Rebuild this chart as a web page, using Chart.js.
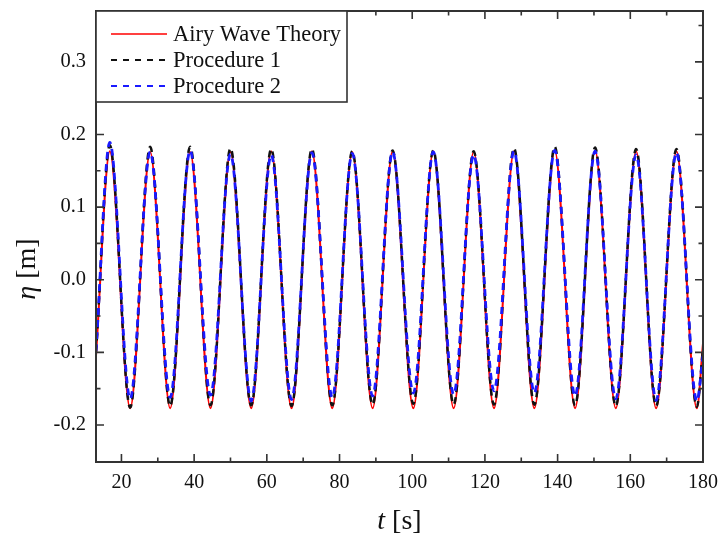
<!DOCTYPE html>
<html lang="en">
<head>
<meta charset="UTF-8">
<title>Surface elevation</title>
<style>
    body {
        margin: 0;
        background: #fff;
    }

    #wrap {
        width: 721px;
        height: 535px;
    }
</style>
</head>
<body>
<div id="wrap"><canvas id="waveChart" width="721" height="535"></canvas></div>

<script src="https://cdn.jsdelivr.net/npm/chart.js"></script>
<script>
    // crests and troughs: t [s], eta [m]
    const times = [13.0, 16.8, 22.4, 27.9, 33.4, 38.9, 44.5, 50.0, 55.7, 61.2, 66.8,
        72.4, 78.0, 83.5, 89.1, 94.6, 100.3, 105.8, 111.4, 116.9, 122.5,
        128.0, 133.6, 139.2, 144.8, 150.3, 156.0, 161.6, 167.1, 172.7, 178.3, 180.0];
    const airy = [-0.105, 0.177, -0.177, 0.176, -0.177, 0.176, -0.177, 0.176, -0.177, 0.177, -0.177,
        0.177, -0.177, 0.176, -0.177, 0.177, -0.177, 0.177, -0.177, 0.176, -0.177,
        0.177, -0.177, 0.178, -0.177, 0.178, -0.177, 0.177, -0.177, 0.177, -0.177, -0.088];
    const proc1 = [-0.100, 0.185, -0.176, 0.183, -0.174, 0.183, -0.173, 0.181, -0.173, 0.180, -0.174,
        0.180, -0.173, 0.177, -0.172, 0.178, -0.171, 0.178, -0.172, 0.177, -0.172,
        0.181, -0.172, 0.183, -0.173, 0.182, -0.174, 0.180, -0.174, 0.180, -0.175, -0.095];
    const proc2 = [-0.098, 0.189, -0.164, 0.176, -0.162, 0.178, -0.159, 0.173, -0.167, 0.172, -0.165,
        0.175, -0.162, 0.174, -0.160, 0.176, -0.156, 0.176, -0.158, 0.172, -0.153,
        0.177, -0.156, 0.178, -0.160, 0.177, -0.164, 0.172, -0.166, 0.175, -0.167, -0.105];

    const xTicks = [20, 40, 60, 80, 100, 120, 140, 160, 180];
    const xMinor = [30, 50, 70, 90, 110, 130, 150, 170];
    const yTicks = [-0.2, -0.1, 0.0, 0.1, 0.2, 0.3];
    const yMinor = [-0.15, -0.05, 0.05, 0.15, 0.25, 0.35];

    const seriesNames = ['Airy Wave Theory', 'Procedure 1', 'Procedure 2'];
    const seriesColors = ['#ff0000', '#111111', '#1a1aff'];

    const FONT = "'Liberation Serif', 'Times New Roman', serif";
    const AXIS = '#333333';

    function pts(ys) {
        return times.map((t, i) => ({ x: t, y: ys[i] }));
    }

    // frame with inward ticks on all four sides, then the boxed legend
    const framePlugin = {
        id: 'frame',
        afterDraw(chart) {
            const c = chart.ctx;
            const a = chart.chartArea;
            const xs = chart.scales.x;
            const ys = chart.scales.y;
            c.save();
            c.strokeStyle = AXIS;
            c.lineWidth = 1.6;
            c.beginPath();
            xTicks.concat(xMinor).forEach(v => {
                const px = xs.getPixelForValue(v);
                const len = xTicks.includes(v) ? 8 : 4.5;
                c.moveTo(px, a.bottom); c.lineTo(px, a.bottom - len);
                c.moveTo(px, a.top); c.lineTo(px, a.top + len);
            });
            yTicks.concat(yMinor).forEach(v => {
                const py = ys.getPixelForValue(v);
                const len = yTicks.includes(v) ? 8 : 4.5;
                c.moveTo(a.left, py); c.lineTo(a.left + len, py);
                c.moveTo(a.right, py); c.lineTo(a.right - len, py);
            });
            c.stroke();
            c.lineWidth = 2;
            c.strokeRect(a.left, a.top, a.right - a.left, a.bottom - a.top);

            // legend box
            const bx = a.left, by = a.top, bw = 251, bh = 91;
            c.fillStyle = '#fff';
            c.fillRect(bx, by, bw, bh);
            c.lineWidth = 1.6;
            c.strokeRect(bx, by, bw, bh);
            const rows = [34, 60, 86];
            c.font = '22.5px ' + FONT;
            c.textBaseline = 'alphabetic';
            seriesNames.forEach((name, i) => {
                c.strokeStyle = seriesColors[i];
                c.lineWidth = i === 0 ? 1.5 : 2;
                c.setLineDash(i === 0 ? [] : [6, 6]);
                c.beginPath();
                c.moveTo(bx + 15, rows[i]);
                c.lineTo(bx + 71, rows[i]);
                c.stroke();
                c.setLineDash([]);
                c.fillStyle = '#111';
                c.fillText(name, bx + 77, rows[i] + 7);
            });
            c.restore();
        }
    };

    // axis titles with italic symbols
    const titlePlugin = {
        id: 'titles',
        afterDraw(chart) {
            const c = chart.ctx;
            const a = chart.chartArea;
            c.save();
            c.fillStyle = '#111';
            c.textBaseline = 'alphabetic';
            const it = 'italic 28px ' + FONT;
            const rg = '28px ' + FONT;

            c.font = it;
            const wt = c.measureText('t').width;
            c.font = rg;
            const ws = c.measureText(' [s]').width;
            let x0 = (a.left + a.right) / 2 - (wt + ws) / 2;
            c.font = it;
            c.fillText('t', x0, 529);
            c.font = rg;
            c.fillText(' [s]', x0 + wt, 529);

            c.translate(35, 269);
            c.rotate(-Math.PI / 2);
            c.font = it;
            const we = c.measureText('\u03b7').width;
            c.font = rg;
            const wm = c.measureText(' [m]').width;
            x0 = -(we + wm) / 2;
            c.font = it;
            c.fillText('\u03b7', x0, 0);
            c.font = rg;
            c.fillText(' [m]', x0 + we, 0);
            c.restore();
        }
    };

    const ctx = document.getElementById('waveChart').getContext('2d');
    const waveChart = new Chart(ctx, {
        type: 'line',
        data: {
            datasets: [{
                label: seriesNames[0],
                data: pts(airy),
                borderColor: seriesColors[0],
                borderWidth: 2,
                order: 3
            }, {
                label: seriesNames[1],
                data: pts(proc1),
                borderColor: seriesColors[1],
                borderWidth: 2.5,
                borderDash: [7, 5],
                order: 2
            }, {
                label: seriesNames[2],
                data: pts(proc2),
                borderColor: seriesColors[2],
                borderWidth: 2.8,
                borderDash: [7, 5],
                order: 1
            }]
        },
        options: {
            responsive: false,
            animation: false,
            events: [],
            elements: {
                point: { radius: 0 },
                line: { cubicInterpolationMode: 'monotone', fill: false }
            },
            layout: { padding: { top: 11, right: 18, left: 0, bottom: 0 } },
            plugins: {
                legend: { display: false },
                tooltip: { enabled: false }
            },
            scales: {
                x: {
                    type: 'linear',
                    min: 13,
                    max: 180,
                    grid: { display: false, drawTicks: false },
                    border: { display: false },
                    ticks: {
                        color: '#111',
                        font: { family: FONT, size: 20 },
                        padding: 9,
                        autoSkip: false,
                        maxRotation: 0
                    },
                    afterBuildTicks: s => { s.ticks = xTicks.map(v => ({ value: v })); },
                    afterFit: s => {
                        s.height = 73;
                        s.paddingLeft = 0;
                        s.paddingRight = 0;
                    }
                },
                y: {
                    type: 'linear',
                    min: -0.251,
                    max: 0.37,
                    grid: { display: false, drawTicks: false },
                    border: { display: false },
                    ticks: {
                        color: '#111',
                        font: { family: FONT, size: 20.5 },
                        padding: 10,
                        autoSkip: false,
                        callback: v => v.toFixed(1)
                    },
                    afterBuildTicks: s => { s.ticks = yTicks.map(v => ({ value: v })); },
                    afterFit: s => {
                        s.width = 96;
                        s.paddingTop = 0;
                        s.paddingBottom = 0;
                    }
                }
            }
        },
        plugins: [framePlugin, titlePlugin]
    });
</script>
</body>
</html>
